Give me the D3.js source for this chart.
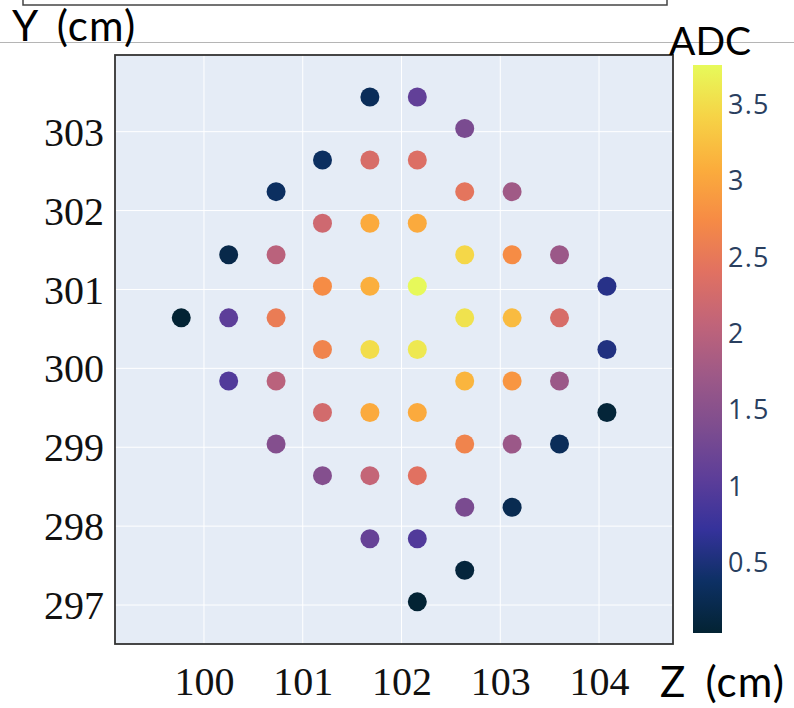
<!DOCTYPE html>
<html>
<head>
<meta charset="utf-8">
<script src="https://cdn.jsdelivr.net/npm/d3@7"></script>
<style>
  html, body { margin: 0; padding: 0; background: #fff; }
  svg { display: block; }
</style>
</head>
<body>
<svg id="chart" width="794" height="708"></svg>
<script>
// ---------------- DATA ----------------
const zValues = [
  99.77,
  100.25, 100.25, 100.25,
  100.73, 100.73, 100.73, 100.73, 100.73,
  101.2, 101.2, 101.2, 101.2, 101.2, 101.2,
  101.68, 101.68, 101.68, 101.68, 101.68, 101.68, 101.68, 101.68,
  102.16, 102.16, 102.16, 102.16, 102.16, 102.16, 102.16, 102.16, 102.16,
  102.64, 102.64, 102.64, 102.64, 102.64, 102.64, 102.64, 102.64,
  103.12, 103.12, 103.12, 103.12, 103.12, 103.12,
  103.6, 103.6, 103.6, 103.6,
  104.08, 104.08, 104.08
];
const yValues = [
  300.64,
  301.44, 300.64, 299.84,
  302.24, 301.44, 300.64, 299.84, 299.04,
  302.64, 301.84, 301.04, 300.24, 299.44, 298.64,
  303.44, 302.64, 301.84, 301.04, 300.24, 299.44, 298.64, 297.84,
  303.44, 302.64, 301.84, 301.04, 300.24, 299.44, 298.64, 297.84, 297.04,
  303.04, 302.24, 301.44, 300.64, 299.84, 299.04, 298.24, 297.44,
  302.24, 301.44, 300.64, 299.84, 299.04, 298.24,
  301.44, 300.64, 299.84, 299.04,
  301.04, 300.24, 299.44
];
const adcValues = [
  0.05,
  0.2, 1.05, 0.95,
  0.35, 2.0, 2.55, 2.0, 1.45,
  0.35, 2.2, 2.75, 2.65, 2.25, 1.45,
  0.3, 2.3, 3.05, 3.1, 3.5, 3.05, 2.1, 1.15,
  1.1, 2.35, 3.05, 3.75, 3.6, 3.05, 2.4, 0.95, 0.05,
  1.35, 2.45, 3.45, 3.55, 3.15, 2.65, 1.35, 0.1,
  1.75, 2.75, 3.2, 2.85, 1.7, 0.25,
  1.7, 2.3, 1.7, 0.3,
  0.6, 0.55, 0.08
];
const xTicks = [100, 101, 102, 103, 104];
const yTicks = [297, 298, 299, 300, 301, 302, 303];
const cbTicks = [0.5, 1, 1.5, 2, 2.5, 3, 3.5];
const adcRange = [0.04, 3.755];
// Plotly "thermal" colorscale
const thermalColors = [
  "rgb(3,35,51)", "rgb(13,48,100)", "rgb(53,50,155)", "rgb(93,62,153)",
  "rgb(126,77,143)", "rgb(158,89,135)", "rgb(193,100,121)", "rgb(225,113,97)",
  "rgb(246,139,69)", "rgb(251,173,60)", "rgb(246,211,70)", "rgb(231,250,90)"
];
const axisTitleY = "Y (cm)";
const axisTitleX = "Z (cm)";
const colorbarTitle = "ADC";

// ---------------- LAYOUT ----------------
const svg = d3.select("#chart");
const plot = { left: 115, top: 55, right: 673, bottom: 644 };

const x = d3.scaleLinear().domain([99.099, 104.749]).range([plot.left, plot.right]);
const y = d3.scaleLinear().domain([296.506, 303.972]).range([plot.bottom, plot.top]);

const n = thermalColors.length;
const stops = thermalColors.map((c, i) => adcRange[0] + (adcRange[1] - adcRange[0]) * i / (n - 1));
const color = d3.scaleLinear().domain(stops).range(thermalColors).interpolate(d3.interpolateRgb).clamp(true);

// decorative frame fragments (slide composite)
svg.append("rect")
  .attr("x", 23).attr("y", -20).attr("width", 644).attr("height", 25)
  .attr("fill", "none").attr("stroke", "#444").attr("stroke-width", 1.5);
svg.append("line")
  .attr("x1", 0).attr("x2", 794).attr("y1", 42.5).attr("y2", 42.5)
  .attr("stroke", "#b5b5b5").attr("stroke-width", 1);

// plot background
svg.append("rect")
  .attr("x", plot.left).attr("y", plot.top)
  .attr("width", plot.right - plot.left).attr("height", plot.bottom - plot.top)
  .attr("fill", "#e5ecf6");

// gridlines
const grid = svg.append("g");
grid.selectAll("line.vx").data(xTicks).join("line")
  .attr("x1", d => x(d)).attr("x2", d => x(d))
  .attr("y1", plot.top).attr("y2", plot.bottom)
  .attr("stroke", "#ffffff").attr("stroke-width", 1);
grid.selectAll("line.hy").data(yTicks).join("line")
  .attr("y1", d => y(d)).attr("y2", d => y(d))
  .attr("x1", plot.left).attr("x2", plot.right)
  .attr("stroke", "#ffffff").attr("stroke-width", 1);

// points
const pts = zValues.map((z, i) => ({ z, y: yValues[i], v: adcValues[i] }));
svg.append("g").selectAll("circle").data(pts).join("circle")
  .attr("cx", d => x(d.z)).attr("cy", d => y(d.y))
  .attr("r", 9.5)
  .attr("fill", d => color(d.v));

// plot border
svg.append("rect")
  .attr("x", plot.left).attr("y", plot.top)
  .attr("width", plot.right - plot.left).attr("height", plot.bottom - plot.top)
  .attr("fill", "none").attr("stroke", "#333").attr("stroke-width", 1.8);

// axes
const serif = "'Liberation Serif', 'Times New Roman', serif";
const yAxis = svg.append("g")
  .attr("transform", `translate(${plot.left},0)`)
  .call(d3.axisLeft(y).tickValues(yTicks).tickSize(0).tickPadding(11).tickFormat(d3.format("d")));
yAxis.select(".domain").remove();
yAxis.selectAll("text")
  .attr("font-family", serif).attr("font-size", 40).attr("fill", "#111")
  .attr("dy", "0.34em");

const xAxis = svg.append("g")
  .attr("transform", `translate(0,${plot.bottom})`)
  .call(d3.axisBottom(x).tickValues(xTicks).tickSize(0).tickPadding(0).tickFormat(d3.format("d")));
xAxis.select(".domain").remove();
xAxis.selectAll("text")
  .attr("font-family", serif).attr("font-size", 40).attr("fill", "#111")
  .attr("y", 51).attr("dy", 0);

// axis titles
const sans = "Lato, 'Open Sans', sans-serif";
svg.append("text").text(axisTitleY)
  .attr("x", 12).attr("y", 41)
  .attr("font-family", sans).attr("font-size", 42)
  .attr("letter-spacing", 1.2).attr("word-spacing", 7)
  .attr("fill", "#000");
svg.append("text").text(axisTitleX)
  .attr("x", 660).attr("y", 697)
  .attr("font-family", sans).attr("font-size", 42)
  .attr("letter-spacing", 1.2).attr("word-spacing", 7)
  .attr("fill", "#000");
svg.append("text").text(colorbarTitle)
  .attr("x", 669).attr("y", 55)
  .attr("font-family", sans).attr("font-size", 39).attr("fill", "#000");

// colorbar
const cb = { x: 693, w: 29, top: 65, bottom: 633 };
const cbY = d3.scaleLinear().domain(adcRange).range([cb.bottom, cb.top]);
const defs = svg.append("defs");
const grad = defs.append("linearGradient").attr("id", "cbgrad")
  .attr("x1", 0).attr("y1", 1).attr("x2", 0).attr("y2", 0);
grad.selectAll("stop").data(stops).join("stop")
  .attr("offset", (d, i) => i / (n - 1))
  .attr("stop-color", (d, i) => thermalColors[i]);
svg.append("rect")
  .attr("x", cb.x).attr("y", cb.top).attr("width", cb.w).attr("height", cb.bottom - cb.top)
  .attr("fill", "url(#cbgrad)");
svg.append("g").selectAll("text").data(cbTicks).join("text")
  .attr("x", cb.x + cb.w + 6).attr("y", d => cbY(d))
  .attr("dy", "0.36em")
  .attr("font-family", "'Open Sans', sans-serif").attr("font-size", 27)
  .attr("letter-spacing", 1.2)
  .attr("fill", "#2a3f5f")
  .text(d => d);
</script>
</body>
</html>
